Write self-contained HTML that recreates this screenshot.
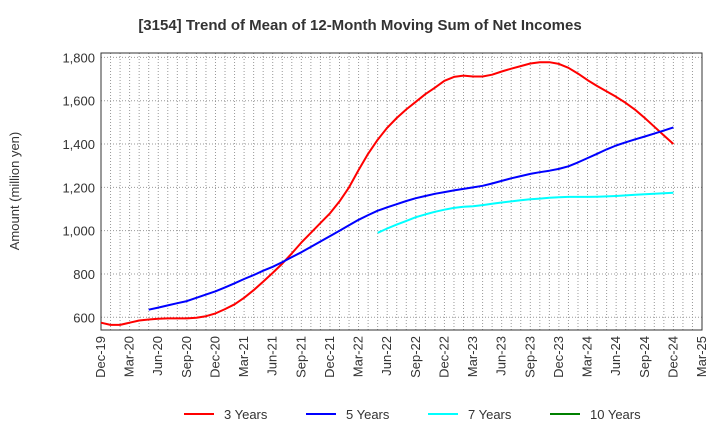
<!DOCTYPE html>
<html><head><meta charset="utf-8"><style>
body{margin:0;background:#fff;font-family:"Liberation Sans",sans-serif;}
svg text{font-family:"Liberation Sans",sans-serif;}
</style></head><body>
<svg id="chart" width="720" height="440" xmlns="http://www.w3.org/2000/svg">
<text x="360" y="30" text-anchor="middle" font-size="15" font-weight="bold" fill="#333">[3154]  Trend of Mean of 12-Month Moving Sum of Net Incomes</text>
<text transform="translate(19,191) rotate(-90)" text-anchor="middle" font-size="13" fill="#333">Amount (million yen)</text>
<g id="grid"></g><g id="axes"></g><g id="series"></g><g id="legend"></g>
</svg>
<script>
const xTickLabels=["Dec-19","Mar-20","Jun-20","Sep-20","Dec-20","Mar-21","Jun-21","Sep-21","Dec-21","Mar-22","Jun-22","Sep-22","Dec-22","Mar-23","Jun-23","Sep-23","Dec-23","Mar-24","Jun-24","Sep-24","Dec-24","Mar-25"];
const yTicks=[600,800,1000,1200,1400,1600,1800];
const seriesNames=["3 Years","5 Years","7 Years","10 Years"];
const seriesColors=["#ff0000","#0000ff","#00ffff","#008000"];
const s3Start=0;
const s3=[575,565,565,575,585,590,593,595,595,595,598,605,618,638,660,690,725,765,805,848,895,945,990,1035,1080,1135,1200,1280,1355,1420,1475,1520,1560,1595,1630,1660,1692,1710,1716,1712,1712,1720,1735,1748,1760,1772,1778,1778,1770,1752,1725,1695,1668,1643,1618,1590,1558,1520,1480,1440,1400];
const s5Start=5;
const s5=[635,645,655,665,675,690,705,720,738,757,777,795,815,833,855,878,900,925,950,975,1000,1025,1050,1072,1092,1108,1122,1137,1150,1160,1170,1178,1186,1193,1200,1207,1218,1230,1242,1252,1262,1270,1277,1285,1297,1315,1335,1355,1375,1393,1408,1422,1435,1448,1462,1477];
const s7Start=29;
const s7=[990,1010,1028,1045,1062,1075,1087,1097,1105,1110,1113,1118,1124,1130,1135,1140,1145,1148,1152,1154,1156,1156,1156,1157,1158,1160,1163,1166,1168,1170,1173,1175];
const s10Start=0;
const s10=[];

const L=101,R=702,T=53,B=330,NM=63;
const x=i=>L+(R-L)*i/NM;
const y=v=>317.3-(v-600)*(259.9/1200);
const NS="http://www.w3.org/2000/svg";
function mk(tag,attrs,parent){const e=document.createElementNS(NS,tag);for(const k in attrs)e.setAttribute(k,attrs[k]);parent.appendChild(e);return e;}
const grid=document.getElementById('grid'),axes=document.getElementById('axes'),ser=document.getElementById('series'),leg=document.getElementById('legend');
for(let m=1;m<NM;m++){const g=mk('line',{x1:x(m),x2:x(m),y1:T,y2:B,stroke:'#999','stroke-width':1,'stroke-dasharray':'1,2'},grid);

}
for(const v of yTicks){const g=mk('line',{x1:L,x2:R,y1:y(v),y2:y(v),stroke:'#999','stroke-width':1,'stroke-dasharray':'1,2'},grid);


const t=mk('text',{x:L-6,y:y(v)+5,'text-anchor':'end','font-size':13,fill:'#333'},axes);t.textContent=v.toLocaleString('en-US');

}
const fr=mk('rect',{x:L,y:T,width:R-L,height:B-T,fill:'none',stroke:'#333','stroke-width':1},axes);


xTickLabels.forEach((lab,q)=>{const xx=x(q*3);const t=mk('text',{transform:`translate(${xx+4},336) rotate(-90)`,'text-anchor':'end','font-size':13,fill:'#333'},axes);t.textContent=lab;

});
const all=[[s3,s3Start],[s5,s5Start],[s7,s7Start],[s10,s10Start]];
all.forEach(([d,st],k)=>{if(!d.length)return;const pts=d.map((v,i)=>x(st+i).toFixed(1)+','+y(v).toFixed(1)).join(' ');
const p=mk('polyline',{points:pts,fill:'none',stroke:seriesColors[k],'stroke-width':2,'stroke-linejoin':'round'},ser);

});
const lx=[184,306,428,550];
seriesNames.forEach((n,k)=>{const g=mk('g',{},leg);


mk('line',{x1:lx[k],x2:lx[k]+30,y1:414,y2:414,stroke:seriesColors[k],'stroke-width':2},g);
const t=mk('text',{x:lx[k]+40,y:419,'font-size':13,fill:'#333'},g);t.textContent=n;});
</script>
</body></html>
